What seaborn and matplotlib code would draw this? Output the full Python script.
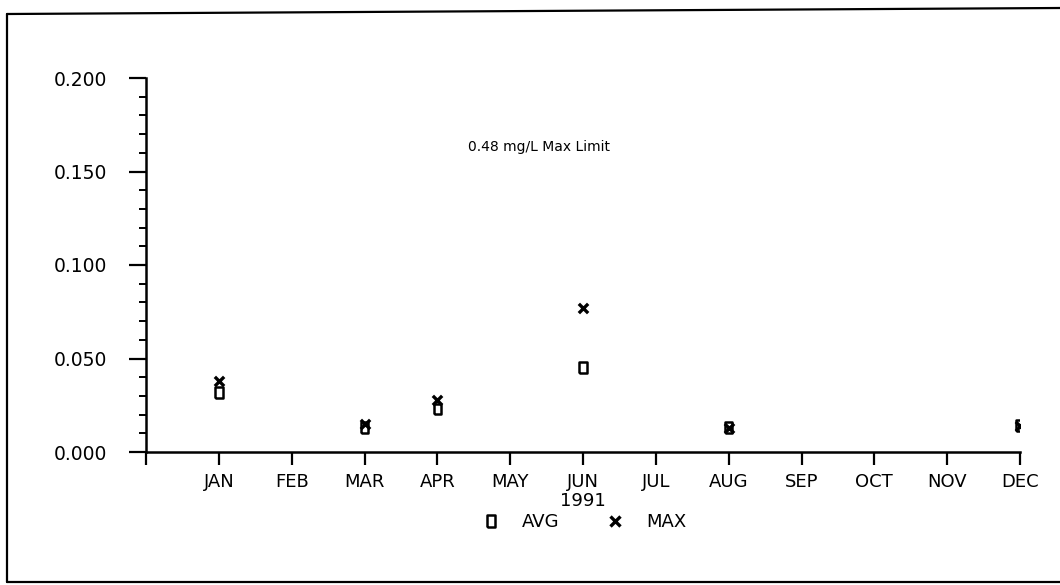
import matplotlib
matplotlib.use("Agg")
import matplotlib.pyplot as plt
from matplotlib.lines import Line2D
from matplotlib.ticker import MultipleLocator
import seaborn as sns
import pandas as pd

months = ["JAN", "FEB", "MAR", "APR", "MAY", "JUN", "JUL", "AUG", "SEP", "OCT", "NOV", "DEC"]
sample_months = ["JAN", "MAR", "APR", "JUN", "AUG", "DEC"]
avg_vals = [0.032, 0.013, 0.023, 0.045, 0.013, 0.014]
max_vals = [0.038, 0.015, 0.028, 0.077, 0.013, 0.014]
ytick_labels = ["0.000", "0.050", "0.100", "0.150", "0.200"]

sns.set_theme(style="white")
plt.rcParams["font.family"] = ["DejaVu Sans"]

W, H = 1060, 585
fig = plt.figure(figsize=(W / 100, H / 100), dpi=100)
ax = fig.add_axes([146 / W, 1 - 452 / H, 874 / W, 374 / H])

xpos = [months.index(m) + 1 for m in sample_months]
df_avg = pd.DataFrame({"x": xpos, "y": avg_vals})
df_max = pd.DataFrame({"x": xpos, "y": max_vals})

rect = [(-0.35, -0.5), (0.35, -0.5), (0.35, 0.5), (-0.35, 0.5), (-0.35, -0.5)]
sns.scatterplot(data=df_avg, x="x", y="y", ax=ax, marker=rect, s=60,
                facecolors="none", edgecolors="black", linewidths=1.8, zorder=3)
sns.scatterplot(data=df_max, x="x", y="y", ax=ax, marker="x", s=45,
                color="black", linewidths=2.4, zorder=4)

ax.set_xlim(0, 12)
ax.set_ylim(0, 0.2)
ax.set_xticks(range(0, 13))
ax.set_xticklabels([""] + months, fontsize=13)
ax.yaxis.set_minor_locator(MultipleLocator(0.01))
ax.set_yticks([0, 0.05, 0.1, 0.15, 0.2])
ax.set_yticklabels(ytick_labels, fontsize=13.5)
ax.tick_params(axis="x", which="major", direction="out", length=9, width=1.6, pad=6, color="black", labelcolor="black", bottom=True)
ax.tick_params(axis="y", which="major", direction="out", length=12, width=1.6, pad=16, color="black", labelcolor="black", left=True)
ax.tick_params(axis="y", which="minor", direction="out", length=5, width=1.4, color="black", left=True)
for s in ["top", "right"]:
    ax.spines[s].set_visible(False)
for s in ["left", "bottom"]:
    ax.spines[s].set_color("black")
    ax.spines[s].set_linewidth(1.8)
ax.set_xlabel("1991", fontsize=13, labelpad=1, color="black")
ax.set_ylabel("")
ax.set_facecolor("white")
ax.text(5.4, 0.163, "0.48 mg/L Max Limit", fontsize=10, ha="center", va="center", color="black")

if ax.get_legend() is not None:
    ax.get_legend().remove()
handles = [
    Line2D([], [], marker=rect, linestyle="none", markersize=8, markerfacecolor="none",
           markeredgecolor="black", markeredgewidth=1.8),
    Line2D([], [], marker="x", linestyle="none", markersize=6.5, color="black", markeredgewidth=2.4),
]
fig.legend(handles, ["AVG", "MAX"], loc="center", bbox_to_anchor=(584 / W, 1 - 522 / H), ncol=2,
           frameon=False, fontsize=13, labelcolor="black", columnspacing=2.6, handletextpad=1.2, handlelength=1.0)

# scanned frame
fig.add_artist(Line2D([7 / W, 7 / W], [1 - 14 / H, 1 - 582 / H], transform=fig.transFigure, color="black", lw=1.6))
fig.add_artist(Line2D([7 / W, 1], [1 - 14 / H, 1 - 8 / H], transform=fig.transFigure, color="black", lw=1.6))
fig.add_artist(Line2D([7 / W, 1], [1 - 582 / H, 1 - 582 / H], transform=fig.transFigure, color="black", lw=1.6))

fig.savefig("out.png", dpi=100, facecolor="white")
